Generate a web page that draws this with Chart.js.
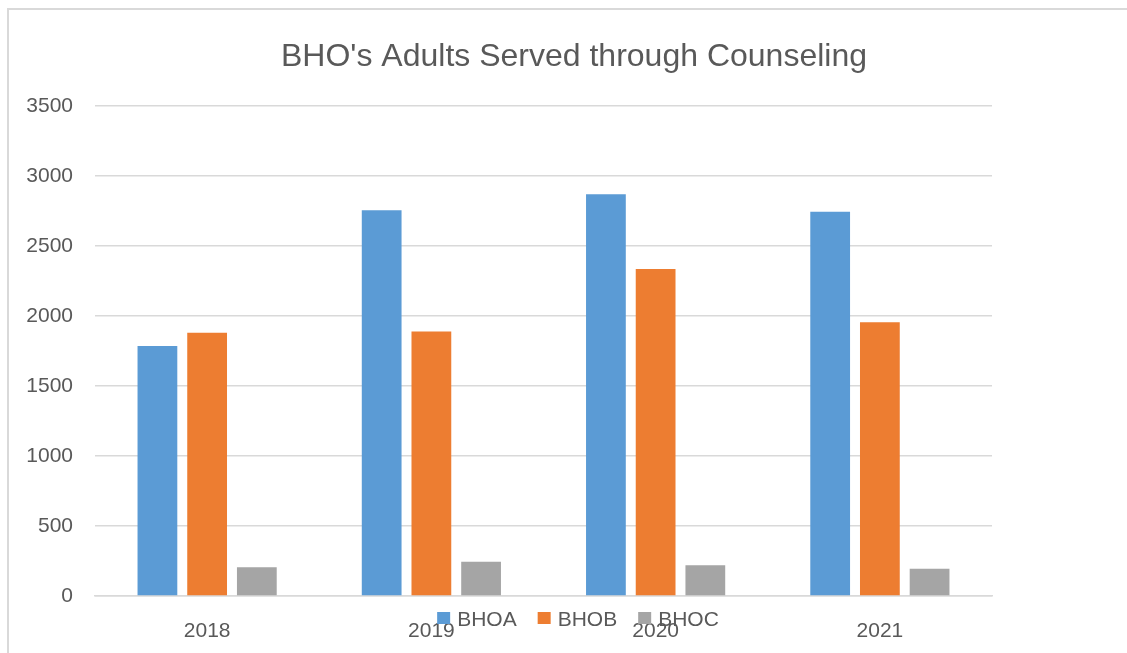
<!DOCTYPE html>
<html>
<head>
<meta charset="utf-8">
<script src="https://cdn.jsdelivr.net/npm/chart.js@4"></script>
<style>
  html, body { margin: 0; padding: 0; background: #fff; overflow: hidden; }
  #wrap { position: relative; width: 1127px; height: 653px; }
  #frame {
    position: absolute; left: 7px; top: 8px; width: 1300px; height: 800px;
    border-top: 2px solid #d9d9d9; border-left: 2px solid #d9d9d9;
    pointer-events: none;
  }
</style>
</head>
<body>
<div id="wrap">
  <canvas id="counselingChart" width="1127" height="653"></canvas>
  <div id="frame"></div>
</div>
<script>
const years = ["2018", "2019", "2020", "2021"];
const bhoa = [1785, 2755, 2870, 2745];
const bhob = [1880, 1890, 2335, 1955];
const bhoc = [205, 245, 220, 195];
const yTicks = [0, 500, 1000, 1500, 2000, 2500, 3000, 3500];

const FONT = "'Liberation Sans', Arial, sans-serif";
const TEXT = "#595959";
const GRID = "#d9d9d9";

// title and legend are painted by hand so they can sit where the layout wants them
const decorations = {
  id: "decorations",
  afterDraw(chart) {
    const ctx = chart.ctx;
    ctx.save();
    ctx.fillStyle = TEXT;
    ctx.font = `32px ${FONT}`;
    ctx.textAlign = "center";
    ctx.textBaseline = "alphabetic";
    ctx.fillText("BHO's Adults Served through Counseling", 574, 66);

    ctx.font = `21px ${FONT}`;
    ctx.textAlign = "left";
    ctx.textBaseline = "middle";
    const box = 13, gap = 7, spacing = 21;
    const items = chart.data.datasets.map(ds => ({
      label: ds.label, color: ds.backgroundColor, w: ctx.measureText(ds.label).width
    }));
    const total = items.reduce((s, it) => s + box + gap + it.w, 0) + spacing * (items.length - 1);
    let x = 578 - total / 2;
    const y = 619;
    items.forEach(it => {
      ctx.fillStyle = it.color;
      ctx.fillRect(x, y - 7, box, 12);
      x += box + gap;
      ctx.fillStyle = TEXT;
      ctx.fillText(it.label, x, y + 1);
      x += it.w + spacing;
    });
    ctx.restore();
  }
};

new Chart(document.getElementById("counselingChart"), {
  type: "bar",
  data: {
    labels: years,
    datasets: [
      { label: "BHOA", data: bhoa, backgroundColor: "#5b9bd5" },
      { label: "BHOB", data: bhob, backgroundColor: "#ed7d31" },
      { label: "BHOC", data: bhoc, backgroundColor: "#a5a5a5" }
    ]
  },
  options: {
    responsive: false,
    animation: false,
    devicePixelRatio: 1,
    layout: { padding: { left: 0, right: 135, top: 106, bottom: 0 } },
    datasets: {
      bar: { categoryPercentage: 0.665, barPercentage: 0.8 }
    },
    plugins: {
      legend: { display: false },
      title: { display: false },
      tooltip: { enabled: false }
    },
    scales: {
      x: {
        grid: { display: false },
        border: { display: true, color: GRID, width: 1.5 },
        ticks: { color: TEXT, font: { family: FONT, size: 21 }, padding: 15, maxRotation: 0 },
        afterFit: scale => { scale.height = 57; }
      },
      y: {
        min: 0,
        max: 3500,
        afterBuildTicks: scale => { scale.ticks = yTicks.map(v => ({ value: v })); },
        grid: { color: GRID, lineWidth: 1.5, drawTicks: false },
        border: { display: false },
        ticks: {
          color: TEXT,
          font: { family: FONT, size: 21 },
          padding: 22,
          callback: v => String(v)
        },
        afterFit: scale => { scale.width = 95; }
      }
    }
  },
  plugins: [decorations]
});
</script>
</body>
</html>
